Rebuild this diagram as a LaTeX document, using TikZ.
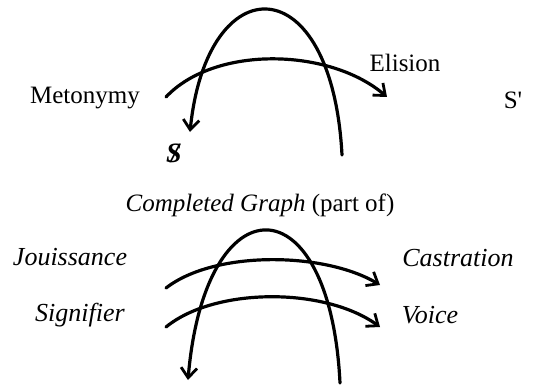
\documentclass[tikz,border=0pt]{standalone}
\usepackage{fontspec}
\setmainfont{Liberation Serif}
\usetikzlibrary{arrows.meta}

\begin{document}
\begin{tikzpicture}[
    x=1pt, y=-1pt,
    lbl/.style={inner sep=0pt, font=\fontsize{25}{28}\selectfont},
    ilbl/.style={lbl, font=\fontsize{26}{28}\selectfont\itshape},
    arc/.style={line width=3.2pt, line cap=round},
    arr/.style={arc, -{Straight Barb[length=10pt, width=16pt, line width=2.8pt]}}
]
\useasboundingbox (0,0) rectangle (548,385);

% upper graph
\node[lbl] (meto) at (85,98) {Metonymy};
\node[lbl] (elis) at (405,63) {Elision};
\node[lbl] (sp) at (513,100) {S\textquotesingle};
\node[lbl, font=\fontsize{28}{30}\selectfont] (bars) at (174,153) {\bfseries\itshape S\llap{/\hspace{0.1em}}};
\coordinate (a1) at (342,155);
\coordinate (a2) at (190,132);
\coordinate (h1) at (166,97);
\coordinate (h2) at (387,97);
\draw[arr] (a1) .. controls (332,-35) and (207,-35) .. (a2);
\draw[arr] (h1) .. controls (215,45) and (330,48) .. (h2);

\node[lbl] (title) at (260,205) {\textit{Completed Graph} (part of)};

% lower graph
\node[ilbl] (joui) at (70,257) {Jouissance};
\node[ilbl] (cast) at (458,258) {Castration};
\node[ilbl] (sign) at (80,315) {Signifier};
\node[ilbl] (voic) at (430,315) {Voice};
\coordinate (b1) at (340,383);
\coordinate (b2) at (188,380);
\coordinate (u1) at (166,288);
\coordinate (u2) at (380,285);
\coordinate (l1) at (166,327);
\coordinate (l2) at (380,327);
\draw[arr] (b1) .. controls (330,180) and (205,180) .. (b2);
\draw[arr] (u1) .. controls (215,250) and (325,252) .. (u2);
\draw[arr] (l1) .. controls (215,287) and (325,287) .. (l2);
\end{tikzpicture}
\end{document}
